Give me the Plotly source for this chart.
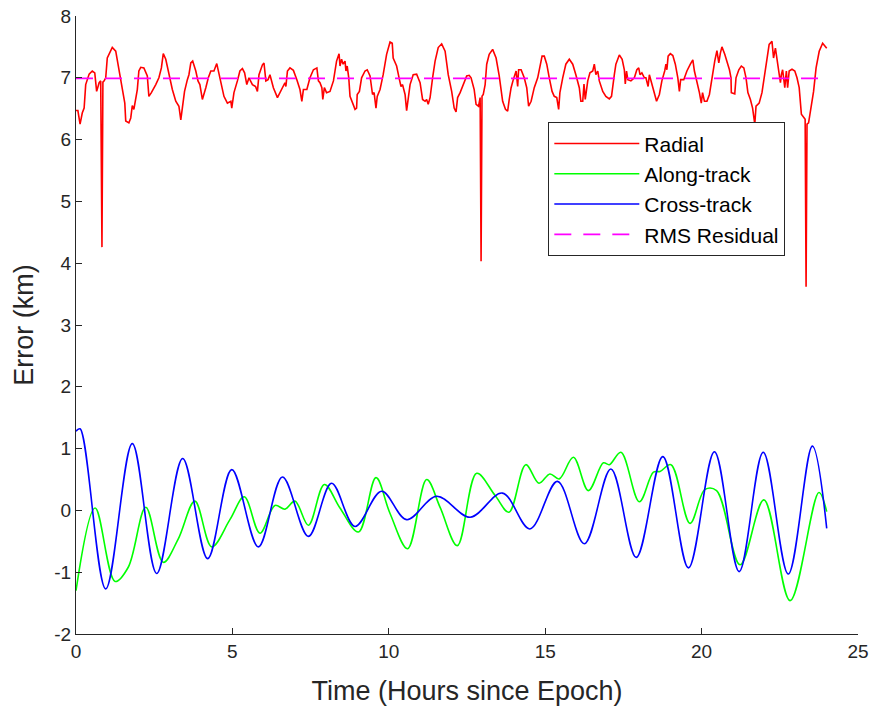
import plotly.graph_objects as go

# ---- Radial error (km) ----
radial_t = [0.00, 0.06, 0.13, 0.20, 0.26, 0.31, 0.42, 0.52, 0.60, 0.66, 0.74, 0.79, 0.83, 0.86, 0.90, 0.95,
            1.00, 1.16, 1.27, 1.37, 1.48, 1.56, 1.59, 1.69, 1.75, 1.80, 1.85, 1.91, 1.96, 2.01, 2.07, 2.17,
            2.28, 2.33, 2.41, 2.55, 2.65, 2.73, 2.79, 2.87, 2.97, 3.08, 3.19, 3.29, 3.35, 3.43, 3.47, 3.56,
            3.61, 3.67, 3.73, 3.83, 3.90, 3.96, 4.04, 4.15, 4.23, 4.31, 4.41, 4.50, 4.54, 4.63, 4.73, 4.84,
            4.95, 4.98, 5.05, 5.16, 5.24, 5.32, 5.39, 5.46, 5.53, 5.64, 5.74, 5.80, 5.85, 5.96, 6.01, 6.07,
            6.14, 6.20, 6.31, 6.44, 6.58, 6.68, 6.71, 6.76, 6.84, 6.95, 7.06, 7.16, 7.22, 7.27, 7.38, 7.48,
            7.59, 7.70, 7.75, 7.80, 7.86, 7.89, 7.94, 8.01, 8.12, 8.23, 8.33, 8.41, 8.44, 8.49, 8.54, 8.60,
            8.63, 8.67, 8.72, 8.76, 8.86, 8.92, 8.97, 8.99, 9.06, 9.13, 9.24, 9.31, 9.40, 9.48, 9.53, 9.59,
            9.63, 9.72, 9.82, 9.93, 10.04, 10.11, 10.14, 10.25, 10.34, 10.39, 10.44, 10.52, 10.57, 10.62,
            10.68, 10.78, 10.89, 11.00, 11.08, 11.16, 11.21, 11.26, 11.32, 11.40, 11.48, 11.58, 11.69, 11.80,
            11.90, 12.01, 12.09, 12.15, 12.20, 12.28, 12.38, 12.49, 12.57, 12.63, 12.73, 12.79, 12.87, 12.92,
            12.95, 12.98, 13.02, 13.08, 13.13, 13.21, 13.32, 13.43, 13.53, 13.64, 13.73, 13.80, 13.85, 13.91,
            13.98, 14.07, 14.12, 14.15, 14.23, 14.33, 14.41, 14.47, 14.55, 14.65, 14.76, 14.83, 14.90, 14.97,
            15.05, 15.13, 15.22, 15.29, 15.37, 15.43, 15.47, 15.56, 15.66, 15.77, 15.88, 15.98, 16.09, 16.14,
            16.20, 16.24, 16.28, 16.36, 16.43, 16.52, 16.57, 16.62, 16.68, 16.73, 16.84, 16.94, 17.05, 17.12,
            17.16, 17.21, 17.26, 17.37, 17.46, 17.53, 17.56, 17.60, 17.64, 17.74, 17.85, 17.93, 17.99, 18.03,
            18.09, 18.17, 18.22, 18.29, 18.33, 18.38, 18.49, 18.56, 18.65, 18.73, 18.82, 18.86, 18.89, 18.93,
            19.00, 19.08, 19.16, 19.24, 19.29, 19.33, 19.43, 19.53, 19.64, 19.72, 19.77, 19.85, 19.93, 19.99,
            20.03, 20.09, 20.17, 20.25, 20.33, 20.42, 20.49, 20.55, 20.60, 20.65, 20.74, 20.81, 20.89, 20.94,
            20.95, 21.06, 21.10, 21.19, 21.27, 21.35, 21.42, 21.48, 21.56, 21.63, 21.70, 21.74, 21.84, 21.93,
            22.02, 22.09, 22.16, 22.25, 22.30, 22.36, 22.41, 22.46, 22.52, 22.55, 22.59, 22.66, 22.71, 22.75,
            22.80, 22.89, 22.98, 23.05, 23.12, 23.19, 23.26, 23.31, 23.34, 23.37, 23.42, 23.50, 23.58, 23.66,
            23.76, 23.87, 23.95, 24.00]
radial_v = [6.47, 6.47, 6.25, 6.43, 6.51, 6.89, 7.06, 7.11, 7.08, 6.78, 6.92, 6.95, 4.26, 6.93, 6.95, 7.00,
            7.32, 7.49, 7.43, 7.16, 6.84, 6.59, 6.30, 6.27, 6.35, 6.55, 6.49, 6.70, 6.81, 7.11, 7.17, 7.16,
            7.03, 6.70, 6.76, 6.89, 7.00, 7.16, 7.39, 7.30, 7.05, 6.81, 6.62, 6.54, 6.32, 6.62, 6.78, 6.97,
            7.05, 7.24, 7.27, 7.11, 6.95, 6.89, 6.65, 6.84, 7.00, 7.11, 7.11, 7.23, 7.13, 6.95, 6.70, 6.59,
            6.62, 6.51, 6.76, 6.95, 7.11, 7.15, 7.08, 6.89, 7.00, 6.89, 6.86, 6.78, 7.05, 7.21, 7.24, 6.95,
            6.97, 7.05, 6.84, 6.68, 6.81, 6.92, 6.86, 7.11, 7.16, 7.12, 6.97, 6.81, 6.62, 6.81, 6.81, 7.00,
            7.13, 7.16, 6.95, 6.92, 6.84, 6.65, 6.84, 6.76, 6.78, 6.95, 7.27, 7.39, 7.19, 7.30, 7.22, 7.27,
            7.11, 7.19, 7.00, 6.70, 6.57, 6.49, 6.51, 6.73, 6.78, 7.00, 7.11, 7.13, 7.03, 6.73, 6.76, 6.51,
            6.70, 6.81, 7.05, 7.38, 7.58, 7.56, 7.32, 7.19, 6.97, 6.86, 6.89, 6.73, 6.47, 6.68,
            6.89, 7.05, 7.06, 6.92, 6.65, 6.62, 6.65, 6.57, 6.68, 7.00, 7.27, 7.49, 7.55, 7.43,
            7.05, 6.78, 6.51, 6.45, 6.68, 6.76, 6.89, 7.03, 7.04, 7.00, 6.81, 6.57, 6.54, 6.68,
            4.03, 6.70, 6.73, 6.89, 7.22, 7.38, 7.46, 7.32, 7.03, 6.62, 6.49, 6.46, 6.65, 6.84,
            6.97, 7.11, 6.86, 7.13, 7.13, 7.00, 6.84, 6.54, 6.62, 6.84, 7.00, 7.16, 7.35, 7.35,
            7.22, 7.00, 6.78, 6.70, 6.68, 6.49, 6.76, 7.00, 7.22, 7.30, 7.22, 7.05, 6.84, 6.62,
            6.62, 6.90, 6.65, 6.95, 7.08, 7.11, 7.22, 7.05, 7.11, 6.95, 6.78, 6.70, 6.66, 6.70,
            6.90, 7.05, 7.22, 7.37, 7.30, 7.13, 6.90, 7.11, 6.97, 6.95, 7.00, 7.13, 7.16, 7.05,
            7.08, 7.00, 7.00, 6.86, 7.05, 6.95, 6.73, 6.62, 6.73, 6.95, 7.11, 7.22, 7.13, 7.35,
            7.39, 7.36, 7.22, 7.00, 6.78, 6.97, 6.97, 7.11, 7.22, 7.29, 7.11, 6.95, 6.76, 6.59,
            6.76, 6.62, 6.62, 6.73, 7.00, 7.27, 7.44, 7.24, 7.40, 7.50, 7.38, 7.27, 7.13, 7.00,
            6.76, 6.74, 7.00, 7.13, 7.19, 7.16, 7.00, 6.76, 6.65, 6.51, 6.25, 6.54, 6.59, 6.76,
            7.05, 7.32, 7.54, 7.59, 7.32, 7.48, 7.30, 7.13, 6.92, 7.05, 7.13, 6.84, 7.11, 6.84,
            7.11, 7.14, 7.11, 7.00, 6.84, 6.41, 6.35, 6.33, 3.62, 6.25, 6.27, 6.51, 6.78, 7.16,
            7.43, 7.56, 7.51, 7.48]

# ---- Along-track error (km) ----
along_t = [0.00, 0.61, 1.25, 1.67, 2.23, 2.79, 3.27, 3.80, 4.34, 4.92, 5.38, 5.88, 6.36, 6.68, 7.00,
           7.43, 7.94, 8.44, 9.03, 9.59, 10.04, 10.60, 11.21, 11.64, 12.19, 12.81, 13.40, 13.84, 14.38,
           14.80, 15.15, 15.45, 15.90, 16.38, 16.86, 17.05, 17.42, 18.01, 18.46, 18.67, 19.02, 19.63,
           20.11, 20.48, 21.23, 21.99, 22.83, 23.75, 24.00]
along_v = [-1.30, 0.04, -1.15, -0.92, 0.05, -0.84, -0.46, 0.15, -0.59, -0.15, 0.22, -0.37, 0.08, 0.02, 0.15,
           -0.24, 0.42, 0.04, -0.35, 0.53, -0.05, -0.62, 0.50, 0.05, -0.57, 0.60, 0.24, -0.03, 0.74,
           0.44, 0.59, 0.51, 0.86, 0.32, 0.77, 0.74, 0.94, 0.14, 0.62, 0.63, 0.74, -0.21,
           0.34, 0.32, -0.88, 0.17, -1.46, 0.29, -0.02]

# ---- Cross-track error (km) ----
cross_t = [0.00, 0.13, 0.95, 1.80, 2.58, 3.41, 4.21, 4.98, 5.83, 6.60, 7.43, 8.17, 8.92, 9.77, 10.57,
           11.53, 12.60, 13.63, 14.51, 15.39, 16.25, 17.10, 17.91, 18.76, 19.58, 20.41, 21.20, 21.97,
           22.77, 23.54, 24.00]
cross_v = [1.28, 1.32, -1.27, 1.08, -1.02, 0.84, -0.78, 0.66, -0.59, 0.54, -0.42, 0.44, -0.26, 0.31, -0.15,
           0.23, -0.11, 0.28, -0.30, 0.47, -0.54, 0.67, -0.76, 0.87, -0.93, 0.95, -0.99, 0.94,
           -1.03, 1.04, -0.29]

# ---- RMS residual ----
rms_t = [0.0, 24.0]
rms_v = [6.99, 6.99]

x_ticks = [0, 5, 10, 15, 20, 25]
y_ticks = [-2, -1, 0, 1, 2, 3, 4, 5, 6, 7, 8]

FONT = "Liberation Sans, Arial, sans-serif"
AXC = "#262626"

fig = go.Figure()
fig.add_trace(go.Scatter(x=radial_t, y=radial_v, mode="lines", name="Radial",
                         line=dict(color="#FF0000", width=1.6)))
fig.add_trace(go.Scatter(x=along_t, y=along_v, mode="lines", name="Along-track",
                         line=dict(color="#00FF00", width=1.6, shape="spline", smoothing=1.0)))
fig.add_trace(go.Scatter(x=cross_t, y=cross_v, mode="lines", name="Cross-track",
                         line=dict(color="#0000FF", width=1.6, shape="spline", smoothing=1.0)))
fig.add_trace(go.Scatter(x=rms_t, y=rms_v, mode="lines", name="RMS Residual",
                         line=dict(color="#FF00FF", width=1.6, dash="17px,12px")))

axis_common = dict(showgrid=False, zeroline=False, showline=True, linecolor=AXC,
                   linewidth=1, ticks="inside", ticklen=6, tickcolor=AXC, automargin=False,
                   tickfont=dict(family=FONT, size=19, color=AXC), mirror=False)

fig.update_xaxes(range=[0, 25], tickvals=x_ticks, ticktext=[str(v) for v in x_ticks],
                 title=dict(text="Time (Hours since Epoch)", standoff=20,
                            font=dict(family=FONT, size=27, color=AXC)),
                 **axis_common)
fig.update_yaxes(range=[-2, 8], tickvals=y_ticks, ticktext=[str(v) for v in y_ticks],
                 title=dict(text="Error (km)", standoff=12,
                            font=dict(family=FONT, size=27, color=AXC)),
                 **axis_common)

fig.update_layout(
    width=876, height=715,
    margin=dict(l=76, r=18, t=16, b=81),
    paper_bgcolor="white", plot_bgcolor="white",
    showlegend=True,
    legend=dict(x=0.6036, y=0.8285, xanchor="left", yanchor="top",
                bgcolor="white", bordercolor=AXC, borderwidth=1.3,
                font=dict(family=FONT, size=21, color="black"),
                tracegroupgap=0, itemwidth=85),
)

fig.write_html("out.html", post_script="document.body.style.margin='0';",
               config={"displayModeBar": False})
